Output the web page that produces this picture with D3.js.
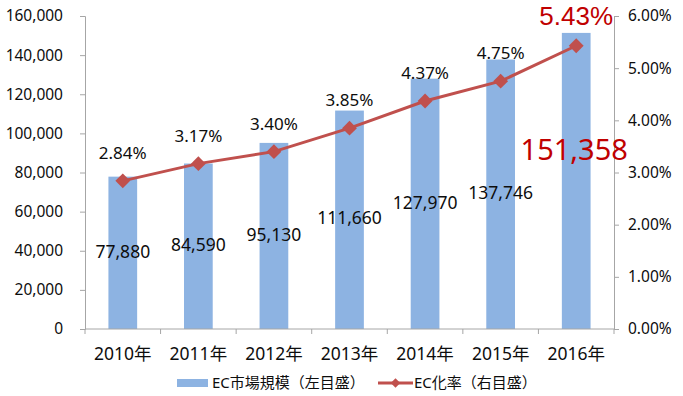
<!DOCTYPE html>
<meta charset="utf-8">
<style>
  body { margin: 0; background: #fff; }
  text { font-family: "Noto Sans", "Noto Sans CJK JP", sans-serif; fill: #0d0d0d; }
</style>
<div id="chart"></div>
<script src="https://cdnjs.cloudflare.com/ajax/libs/d3/7.8.5/d3.min.js"></script>
<script>
const years = ["2010年", "2011年", "2012年", "2013年", "2014年", "2015年", "2016年"];
const marketSize = [77880, 84590, 95130, 111660, 127970, 137746, 151358];
const ecRate = [2.84, 3.17, 3.40, 3.85, 4.37, 4.75, 5.43];
const leftTicks = [0, 20000, 40000, 60000, 80000, 100000, 120000, 140000, 160000];
const rightTicks = [0, 1, 2, 3, 4, 5, 6];
const legendLabels = ["EC市場規模（左目盛）", "EC化率（右目盛）"];

const width = 683, height = 396;
const plotL = 85, plotR = 614, plotT = 16, plotB = 329;
const barColor = "#8db3e2", lineColor = "#c0504d", axisColor = "#a6a6a6";

const svg = d3.select("#chart").append("svg")
    .attr("width", width).attr("height", height);

const x = d3.scaleBand().domain(years).range([plotL, plotR]).paddingInner(0.62).paddingOuter(0.31);
const xb = d3.scaleBand().domain(years).range([plotL, plotR]);
const yL = d3.scaleLinear().domain([0, 160000]).range([plotB, plotT]);
const yR = d3.scaleLinear().domain([0, 6]).range([plotB, plotT]);

// bars
svg.append("g").selectAll("rect")
    .data(marketSize)
    .join("rect")
    .attr("x", (d, i) => x(years[i]))
    .attr("width", x.bandwidth())
    .attr("y", d => yL(d))
    .attr("height", d => yL(0) - yL(d))
    .attr("fill", barColor);

// axes
const fmt = d3.format(",");
const axL = svg.append("g").attr("transform", `translate(${plotL},0)`)
    .call(d3.axisLeft(yL).tickValues(leftTicks).tickFormat(fmt).tickSize(5).tickPadding(17));
const axR = svg.append("g").attr("transform", `translate(${plotR},0)`)
    .call(d3.axisRight(yR).tickValues(rightTicks).tickFormat(d => d.toFixed(2) + "%").tickSize(5).tickPadding(9));
const axB = svg.append("g").attr("transform", `translate(0,${plotB})`)
    .call(d3.axisBottom(xb).tickSize(0).tickPadding(19));
// category boundary ticks
svg.append("g").selectAll("line")
    .data(d3.range(years.length + 1))
    .join("line")
    .attr("x1", i => plotL + i * xb.step()).attr("x2", i => plotL + i * xb.step())
    .attr("y1", plotB).attr("y2", plotB + 5)
    .attr("stroke", axisColor);

[axL, axR, axB].forEach(a => {
  a.selectAll(".domain").attr("stroke", axisColor);
  a.selectAll(".tick line").attr("stroke", axisColor);
  a.selectAll("text").attr("font-size", 15.5).attr("fill", "#0d0d0d")
      .style("font-family", '"Noto Sans", "Noto Sans CJK JP", sans-serif');
});
axB.select(".domain").attr("d", `M${plotL},0H${plotR}`);
axB.selectAll("text").attr("font-size", 17.5);

// line
const cx = i => xb(years[i]) + xb.bandwidth() / 2;
svg.append("path")
    .datum(ecRate)
    .attr("d", d3.line().x((d, i) => cx(i)).y(d => yR(d)))
    .attr("fill", "none").attr("stroke", lineColor).attr("stroke-width", 3);
svg.append("g").selectAll("path")
    .data(ecRate)
    .join("path")
    .attr("d", d3.symbol(d3.symbolSquare, 110))
    .attr("transform", (d, i) => `translate(${cx(i)},${yR(d)}) rotate(45)`)
    .attr("fill", lineColor);

// value labels
const last = years.length - 1;
svg.append("g").selectAll("text")
    .data(marketSize)
    .join("text")
    .attr("x", (d, i) => i === last ? cx(i) - 2 : cx(i))
    .attr("y", (d, i) => i === last ? 152 : (yL(d) + yL(0)) / 2)
    .attr("text-anchor", "middle")
    .attr("dominant-baseline", "middle")
    .attr("font-size", (d, i) => i === last ? 29 : 17.5)
    .style("fill", (d, i) => i === last ? "#c00000" : "#0d0d0d")
    .text(d => fmt(d));

svg.append("g").selectAll("text")
    .data(ecRate)
    .join("text")
    .attr("x", (d, i) => cx(i))
    .attr("y", (d, i) => i === last ? yR(d) - 21 : yR(d) - 22)
    .attr("text-anchor", "middle")
    .attr("font-size", (d, i) => i === last ? 26 : 17)
    .style("font-family", (d, i) => i === last ? '"Liberation Sans", sans-serif' : null)
    .style("fill", (d, i) => i === last ? "#c00000" : "#0d0d0d")
    .text(d => d.toFixed(2) + "%");

// legend
const lg = svg.append("g").attr("font-size", 15);
lg.append("rect").attr("x", 177).attr("y", 379).attr("width", 31).attr("height", 8).attr("fill", barColor);
lg.append("text").attr("x", 212).attr("y", 384).attr("dominant-baseline", "middle").text(legendLabels[0]);
lg.append("line").attr("x1", 378).attr("x2", 413).attr("y1", 383).attr("y2", 383)
    .attr("stroke", lineColor).attr("stroke-width", 3);
lg.append("path").attr("d", d3.symbol(d3.symbolSquare, 45))
    .attr("transform", "translate(395.5,383) rotate(45)").attr("fill", lineColor);
lg.append("text").attr("x", 414).attr("y", 384).attr("dominant-baseline", "middle").text(legendLabels[1]);
</script>
